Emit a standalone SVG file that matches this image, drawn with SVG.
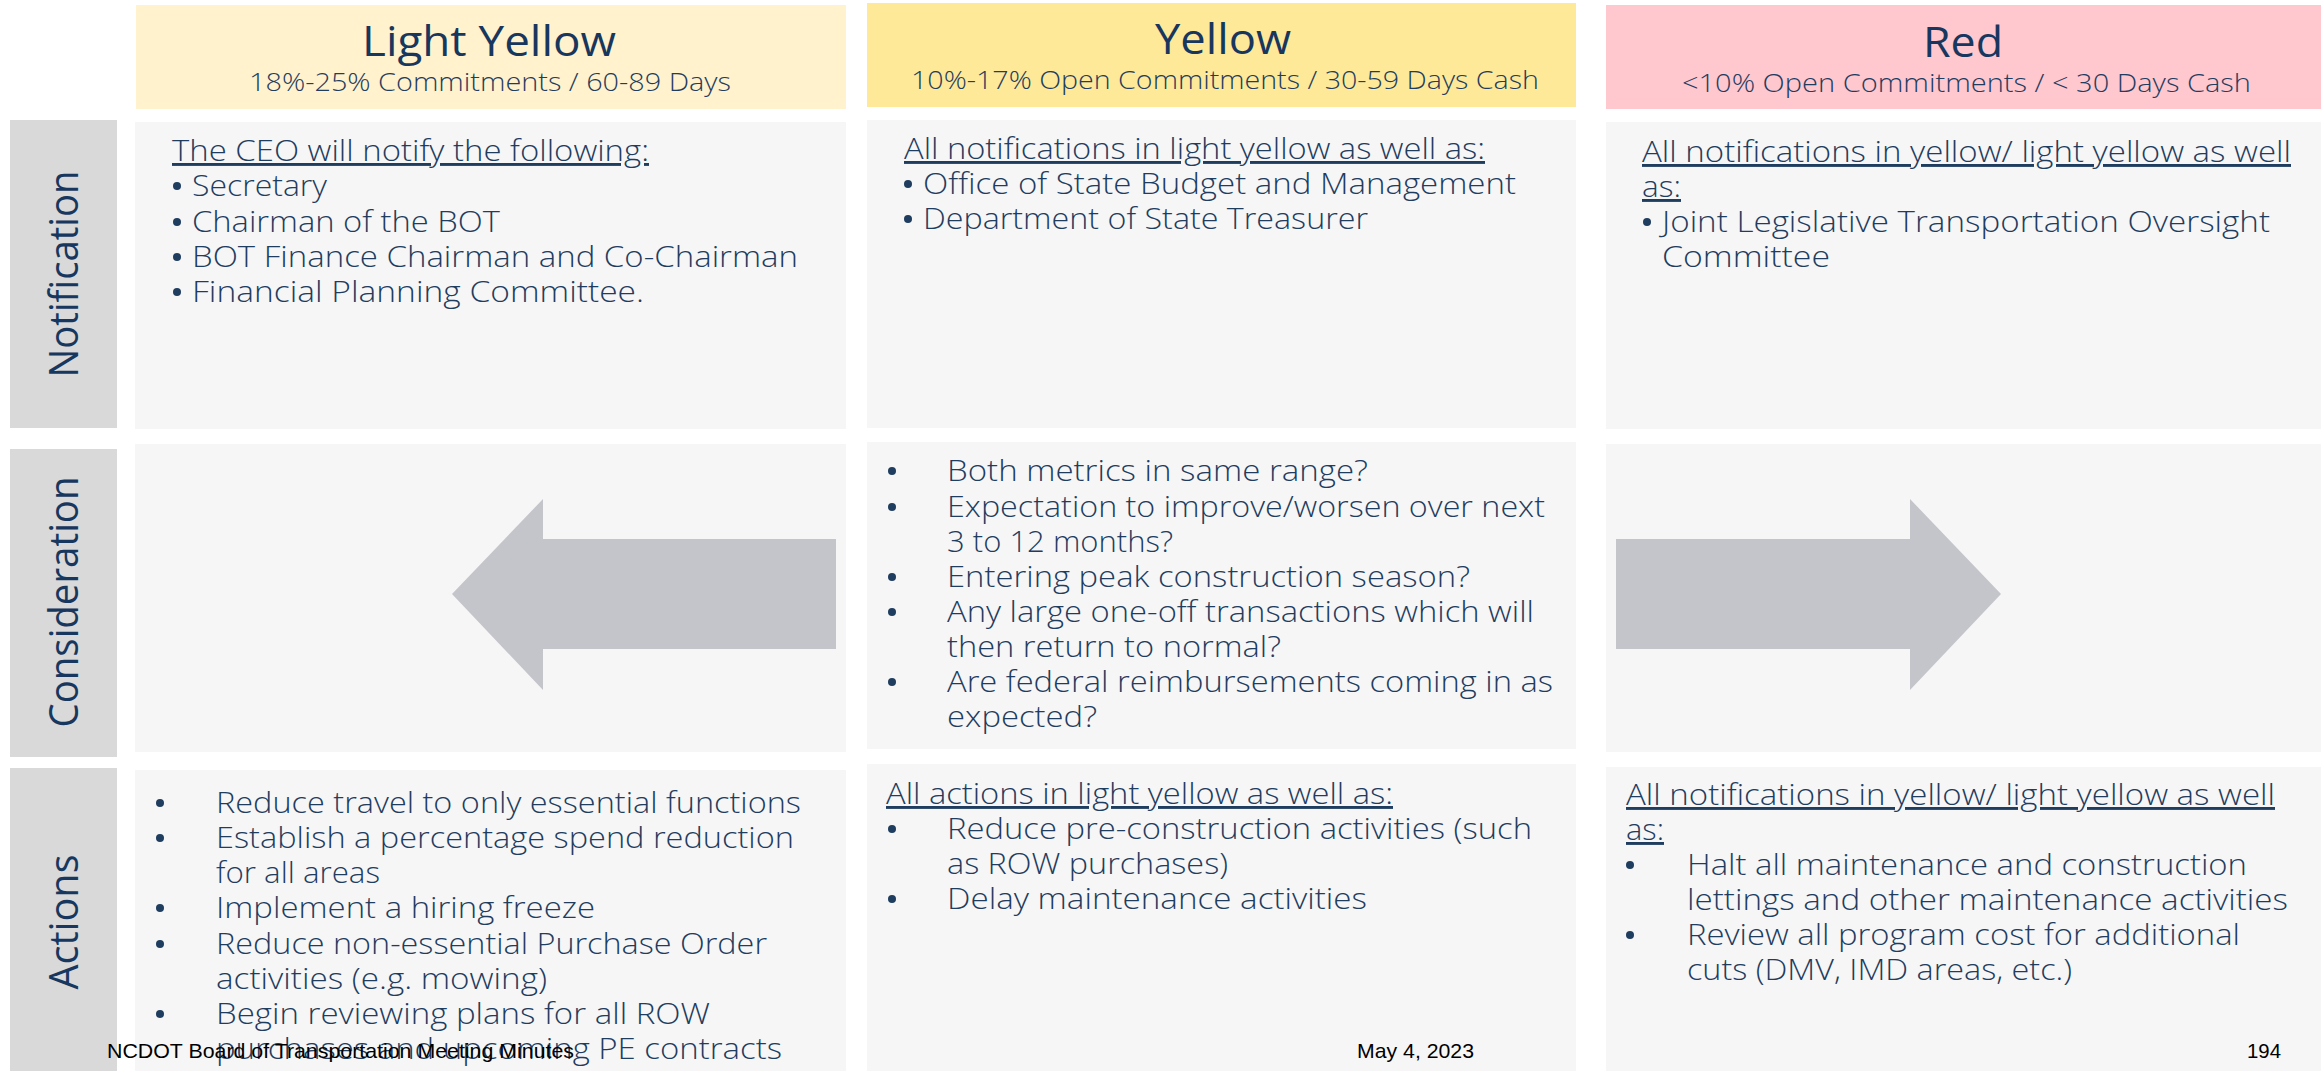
<svg xmlns="http://www.w3.org/2000/svg" width="2321" height="1071" viewBox="0 0 2321 1071">
<style>
.t{font-family:"Open Sans","Liberation Sans",sans-serif;fill:#1f3d5f;font-size:29px;font-weight:300}
.u{text-decoration:underline}
.h1{font-size:42px;font-weight:400;fill:#17375e}
.h2{font-size:25px}
.lbl{font-family:"Open Sans","Liberation Sans",sans-serif;font-size:40px;fill:#17375e}
.ft{font-family:"Liberation Sans",Arial,sans-serif;font-size:21px;fill:#000}
.cell{fill:#f6f6f6}
.rl{fill:#d9d9d9}
.arr{fill:#c4c4cb}
.bl{fill:#1f3d5f}
</style>
<rect width="2321" height="1071" fill="#ffffff"/>

<g id="hdr-light-yellow">
<rect x="136" y="5" width="710" height="104" fill="#fff2cc"/>
<text class="t h1" x="362" y="56" textLength="254" lengthAdjust="spacingAndGlyphs">Light Yellow</text>
<text class="t h2" x="249" y="91" textLength="482" lengthAdjust="spacingAndGlyphs">18%-25% Commitments / 60-89 Days</text>
</g>
<g id="hdr-yellow">
<rect x="867" y="3" width="709" height="104" fill="#fee999"/>
<text class="t h1" x="1155" y="54" textLength="136" lengthAdjust="spacingAndGlyphs">Yellow</text>
<text class="t h2" x="911" y="89" textLength="628" lengthAdjust="spacingAndGlyphs">10%-17% Open Commitments / 30-59 Days Cash</text>
</g>
<g id="hdr-red">
<rect x="1606" y="5" width="715" height="104" fill="#ffc7ce"/>
<text class="t h1" x="1923" y="57" textLength="80" lengthAdjust="spacingAndGlyphs">Red</text>
<text class="t h2" x="1682" y="92" textLength="569" lengthAdjust="spacingAndGlyphs">&lt;10% Open Commitments / &lt; 30 Days Cash</text>
</g>

<g id="row-notification">
<rect class="rl" x="10" y="120" width="107" height="308"/>
<text class="lbl" transform="translate(78,274) rotate(-90)" x="0" y="0" text-anchor="middle" textLength="207" lengthAdjust="spacingAndGlyphs">Notification</text>
</g>
<g id="row-consideration">
<rect class="rl" x="10" y="449" width="107" height="308"/>
<text class="lbl" transform="translate(78,602) rotate(-90)" x="0" y="0" text-anchor="middle" textLength="251" lengthAdjust="spacingAndGlyphs">Consideration</text>
</g>
<g id="row-actions">
<rect class="rl" x="10" y="768" width="107" height="303"/>
<text class="lbl" transform="translate(78,922) rotate(-90)" x="0" y="0" text-anchor="middle" textLength="135" lengthAdjust="spacingAndGlyphs">Actions</text>
</g>

<g id="notif-light-yellow">
<rect class="cell" x="135" y="122" width="711" height="307"/>
<text class="t u" x="172" y="161" textLength="477" lengthAdjust="spacingAndGlyphs">The CEO will notify the following:</text>
<circle class="bl" cx="177" cy="186" r="4"/><text class="t" x="192" y="196" textLength="135" lengthAdjust="spacingAndGlyphs">Secretary</text>
<circle class="bl" cx="177" cy="222" r="4"/><text class="t" x="192" y="232" textLength="308" lengthAdjust="spacingAndGlyphs">Chairman of the BOT</text>
<circle class="bl" cx="177" cy="257" r="4"/><text class="t" x="192" y="267" textLength="606" lengthAdjust="spacingAndGlyphs">BOT Finance Chairman and Co-Chairman</text>
<circle class="bl" cx="177" cy="292" r="4"/><text class="t" x="192" y="302" textLength="452" lengthAdjust="spacingAndGlyphs">Financial Planning Committee.</text>
</g>
<g id="notif-yellow">
<rect class="cell" x="867" y="120" width="709" height="308"/>
<text class="t u" x="904" y="159" textLength="581" lengthAdjust="spacingAndGlyphs">All notifications in light yellow as well as:</text>
<circle class="bl" cx="908" cy="184" r="4"/><text class="t" x="923" y="194" textLength="593" lengthAdjust="spacingAndGlyphs">Office of State Budget and Management</text>
<circle class="bl" cx="908" cy="219" r="4"/><text class="t" x="923" y="229" textLength="445" lengthAdjust="spacingAndGlyphs">Department of State Treasurer</text>
</g>
<g id="notif-red">
<rect class="cell" x="1606" y="122" width="715" height="307"/>
<text class="t u" x="1642" y="162" textLength="649" lengthAdjust="spacingAndGlyphs">All notifications in yellow/ light yellow as well</text>
<text class="t u" x="1642" y="197" textLength="39" lengthAdjust="spacingAndGlyphs">as:</text>
<circle class="bl" cx="1647" cy="222" r="4"/><text class="t" x="1662" y="232" textLength="608" lengthAdjust="spacingAndGlyphs">Joint Legislative Transportation Oversight</text>
<text class="t" x="1662" y="267" textLength="168" lengthAdjust="spacingAndGlyphs">Committee</text>
</g>

<g id="consid-light-yellow">
<rect class="cell" x="135" y="444" width="711" height="308"/>
</g>
<g id="consid-yellow">
<rect class="cell" x="867" y="442" width="709" height="307"/>
<circle class="bl" cx="892" cy="471" r="4"/><text class="t" x="947" y="481" textLength="421" lengthAdjust="spacingAndGlyphs">Both metrics in same range?</text>
<circle class="bl" cx="892" cy="507" r="4"/><text class="t" x="947" y="517" textLength="598" lengthAdjust="spacingAndGlyphs">Expectation to improve/worsen over next</text>
<text class="t" x="947" y="552" textLength="226" lengthAdjust="spacingAndGlyphs">3 to 12 months?</text>
<circle class="bl" cx="892" cy="577" r="4"/><text class="t" x="947" y="587" textLength="523" lengthAdjust="spacingAndGlyphs">Entering peak construction season?</text>
<circle class="bl" cx="892" cy="612" r="4"/><text class="t" x="947" y="622" textLength="587" lengthAdjust="spacingAndGlyphs">Any large one-off transactions which will</text>
<text class="t" x="947" y="657" textLength="334" lengthAdjust="spacingAndGlyphs">then return to normal?</text>
<circle class="bl" cx="892" cy="682" r="4"/><text class="t" x="947" y="692" textLength="606" lengthAdjust="spacingAndGlyphs">Are federal reimbursements coming in as</text>
<text class="t" x="947" y="727" textLength="150" lengthAdjust="spacingAndGlyphs">expected?</text>
</g>
<g id="consid-red">
<rect class="cell" x="1606" y="444" width="715" height="308"/>
</g>

<g id="actions-light-yellow">
<rect class="cell" x="135" y="770" width="711" height="301"/>
<circle class="bl" cx="160" cy="803" r="4"/><text class="t" x="216" y="813" textLength="585" lengthAdjust="spacingAndGlyphs">Reduce travel to only essential functions</text>
<circle class="bl" cx="160" cy="838" r="4"/><text class="t" x="216" y="848" textLength="578" lengthAdjust="spacingAndGlyphs">Establish a percentage spend reduction</text>
<text class="t" x="216" y="883" textLength="164" lengthAdjust="spacingAndGlyphs">for all areas</text>
<circle class="bl" cx="160" cy="908" r="4"/><text class="t" x="216" y="918" textLength="379" lengthAdjust="spacingAndGlyphs">Implement a hiring freeze</text>
<circle class="bl" cx="160" cy="944" r="4"/><text class="t" x="216" y="954" textLength="551" lengthAdjust="spacingAndGlyphs">Reduce non-essential Purchase Order</text>
<text class="t" x="216" y="989" textLength="331" lengthAdjust="spacingAndGlyphs">activities (e.g. mowing)</text>
<circle class="bl" cx="160" cy="1014" r="4"/><text class="t" x="216" y="1024" textLength="494" lengthAdjust="spacingAndGlyphs">Begin reviewing plans for all ROW</text>
<text class="t" x="216" y="1059" textLength="566" lengthAdjust="spacingAndGlyphs">purchases and upcoming PE contracts</text>
</g>
<g id="actions-yellow">
<rect class="cell" x="867" y="764" width="709" height="307"/>
<text class="t u" x="886" y="804" textLength="507" lengthAdjust="spacingAndGlyphs">All actions in light yellow as well as:</text>
<circle class="bl" cx="892" cy="829" r="4"/><text class="t" x="947" y="839" textLength="585" lengthAdjust="spacingAndGlyphs">Reduce pre-construction activities (such</text>
<text class="t" x="947" y="874" textLength="281" lengthAdjust="spacingAndGlyphs">as ROW purchases)</text>
<circle class="bl" cx="892" cy="899" r="4"/><text class="t" x="947" y="909" textLength="420" lengthAdjust="spacingAndGlyphs">Delay maintenance activities</text>
</g>
<g id="actions-red">
<rect class="cell" x="1606" y="767" width="715" height="304"/>
<text class="t u" x="1626" y="805" textLength="649" lengthAdjust="spacingAndGlyphs">All notifications in yellow/ light yellow as well</text>
<text class="t u" x="1626" y="840" textLength="38" lengthAdjust="spacingAndGlyphs">as:</text>
<circle class="bl" cx="1630" cy="865" r="4"/><text class="t" x="1687" y="875" textLength="560" lengthAdjust="spacingAndGlyphs">Halt all maintenance and construction</text>
<text class="t" x="1687" y="910" textLength="601" lengthAdjust="spacingAndGlyphs">lettings and other maintenance activities</text>
<circle class="bl" cx="1630" cy="935" r="4"/><text class="t" x="1687" y="945" textLength="553" lengthAdjust="spacingAndGlyphs">Review all program cost for additional</text>
<text class="t" x="1687" y="980" textLength="385" lengthAdjust="spacingAndGlyphs">cuts (DMV, IMD areas, etc.)</text>
</g>

<g id="connectors">
<polygon class="arr" points="836,539 543,539 543,499 452,594 543,690 543,649 836,649"/>
<polygon class="arr" points="1616,539 1910,539 1910,499 2001,594 1910,690 1910,649 1616,649"/>
</g>

<g id="footer">
<text class="ft" x="107" y="1058" textLength="467" lengthAdjust="spacingAndGlyphs">NCDOT Board of Transportation Meeting Minutes</text>
<text class="ft" x="1357" y="1058" textLength="117" lengthAdjust="spacingAndGlyphs">May 4, 2023</text>
<text class="ft" x="2247" y="1058" textLength="34" lengthAdjust="spacingAndGlyphs">194</text>
</g>
</svg>
